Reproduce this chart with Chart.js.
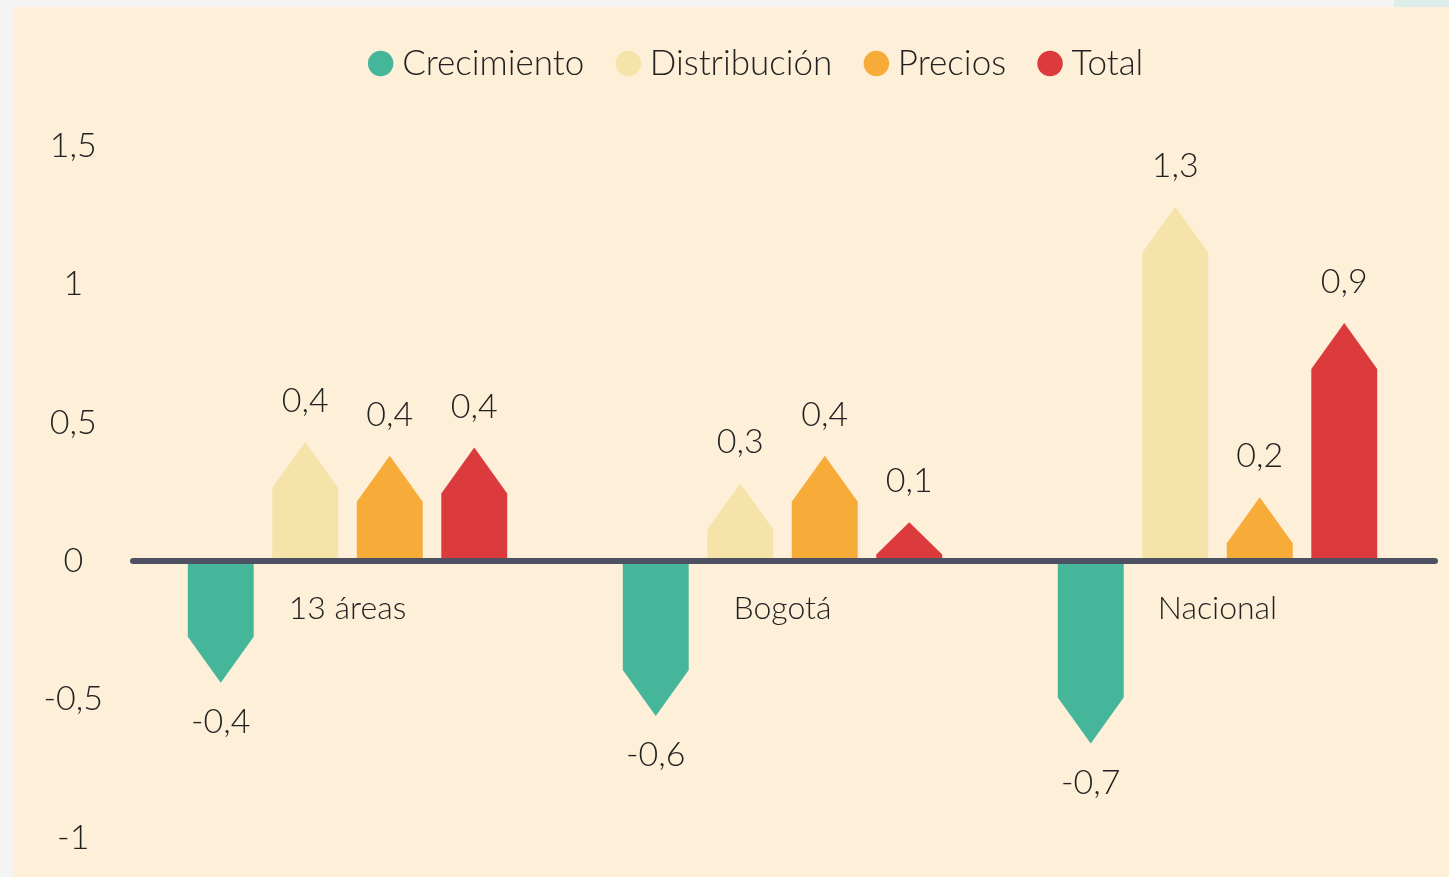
<!DOCTYPE html>
<html>
<head>
<meta charset="utf-8">
<script src="https://cdn.jsdelivr.net/npm/chart.js@4"></script>
<style>
  body { margin: 0; background: #f4f4f4; }
  #wrap { position: relative; width: 1449px; height: 877px; }
  #strip { position: absolute; left: 1394px; top: 0; width: 55px; height: 7px; background: #ddeeea; }
</style>
</head>
<body>
<div id="wrap">
  <canvas id="chart" width="1449" height="877"></canvas>
  <div id="strip"></div>
</div>
<script>
const categories = ["13 áreas", "Bogotá", "Nacional"];
const crecimiento = [-0.44, -0.56, -0.66];
const distribucion = [0.43, 0.28, 1.28];
const precios = [0.38, 0.38, 0.23];
const total = [0.41, 0.14, 0.86];

const FONT = "Lato";
const WEIGHT = 300;
const TEXT = "#222";

// comma decimals like the original
const fmt = (v) => String(v).replace(".", ",");

const arrowBars = {
  id: "arrowBars",
  beforeDraw(chart) {
    const c = chart.ctx;
    c.save();
    c.fillStyle = "#feefd8";
    c.fillRect(13, 7, chart.width - 13, chart.height - 7);
    c.restore();
  },
  beforeDatasetsDraw(chart) {
    const c = chart.ctx;
    const yScale = chart.scales.y;
    const zero = yScale.getPixelForValue(0);
    c.save();
    chart.data.datasets.forEach((ds, i) => {
      const meta = chart.getDatasetMeta(i);
      meta.data.forEach((bar, j) => {
        const { x, y, base, width } = bar;
        const h = Math.abs(base - y);
        const dir = base > y ? 1 : -1; //1 = bar goes up
        const tip = Math.min(46, h * 0.83);
        const shoulder = y + dir * tip;
        c.fillStyle = ds.backgroundColor;
        c.beginPath();
        c.moveTo(x - width / 2, base);
        c.lineTo(x - width / 2, shoulder);
        c.lineTo(x, y);
        c.lineTo(x + width / 2, shoulder);
        c.lineTo(x + width / 2, base);
        c.closePath();
        c.fill();

        // value label above / below the tip
        c.fillStyle = TEXT;
        c.font = WEIGHT + " 34px " + FONT;
        c.textAlign = "center";
        c.textBaseline = "middle";
        const v = ds.data[j];
        c.fillText(fmt(v.toFixed(1)), x, dir > 0 ? y - 41 : y + 39);
      });
    });
    // zero line on top of the bars
    c.strokeStyle = "#4d5162";
    c.lineWidth = 6;
    c.lineCap = "round";
    c.beginPath();
    c.moveTo(chart.chartArea.left + 3, zero);
    c.lineTo(chart.chartArea.right, zero);
    c.stroke();
    c.restore();
    return false;
  },
};

const legendSpace = {
  id: "legendSpace",
  beforeInit(chart) {
    const fit = chart.legend.fit;
    chart.legend.fit = function () {
      fit.bind(chart.legend)();
      this.height += 55;
    };
  },
  afterLayout(chart) {
    //legend sits a bit right of the plot centre in the original
    chart.legend.left += 36;
    chart.legend.right += 36;
  },
};

new Chart(document.getElementById("chart"), {
  type: "bar",
  data: {
    labels: categories,
    datasets: [
      { label: "Crecimiento", data: crecimiento, backgroundColor: "#46b69b" },
      { label: "Distribución", data: distribucion, backgroundColor: "#f5e3aa" },
      { label: "Precios", data: precios, backgroundColor: "#f7ab38" },
      { label: "Total", data: total, backgroundColor: "#dc3b3d" },
    ],
  },
  plugins: [arrowBars, legendSpace],
  options: {
    responsive: false,
    animation: false,
    layout: {
      padding: { top: 6, left: 13, right: 14, bottom: 36 },
    },
    datasets: {
      bar: { categoryPercentage: 0.777, barPercentage: 0.78 },
    },
    plugins: {
      tooltip: { enabled: false },
      legend: {
        position: "top",
        labels: {
          usePointStyle: true,
          pointStyle: "circle",
          boxWidth: 8,
          boxHeight: 18,
          padding: 40,
          color: TEXT,
          font: { family: FONT, size: 35, weight: WEIGHT },
        },
      },
    },
    scales: {
      x: {
        position: { y: 0 },
        grid: { display: false },
        border: { display: false },
        ticks: {
          color: TEXT,
          padding: 21,
          font: { family: FONT, size: 32, weight: WEIGHT },
        },
      },
      y: {
        min: -1,
        max: 1.5,
        afterFit(scale) {
          scale.width = 117;
        },
        grid: { display: false },
        border: { display: false },
        ticks: {
          stepSize: 0.5,
          padding: 19,
          crossAlign: "center",
          color: TEXT,
          font: { family: FONT, size: 34, weight: WEIGHT },
          callback: (v) => fmt(v),
        },
      },
    },
  },
});
</script>
</body>
</html>
